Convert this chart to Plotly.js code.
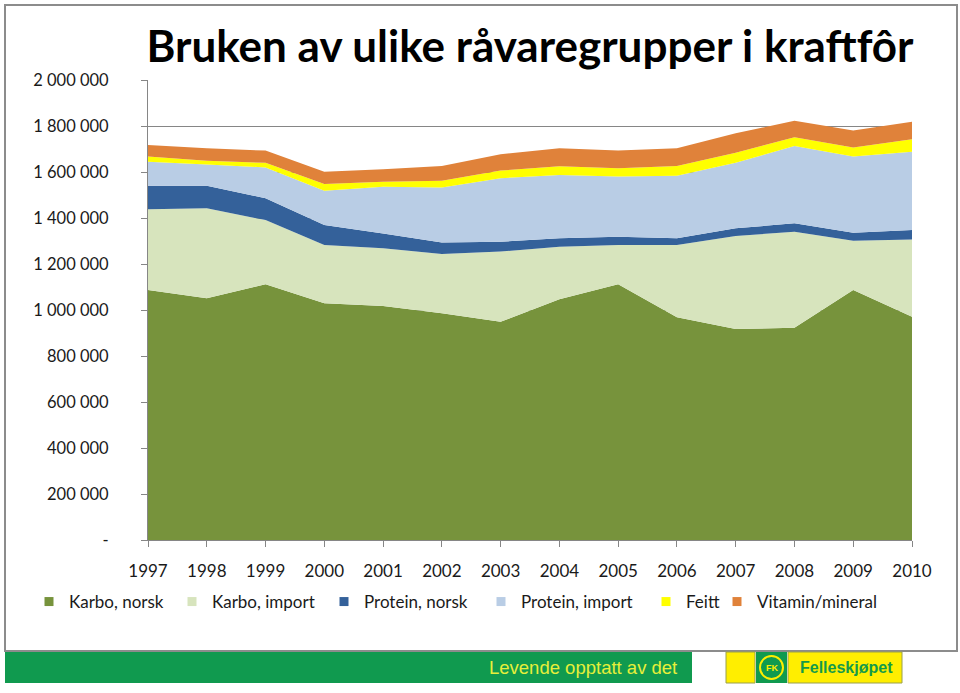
<!DOCTYPE html>
<html>
<head>
<meta charset="utf-8">
<script src="https://cdn.plot.ly/plotly-3.0.1.min.js"></script>
<style>
  html, body { margin: 0; padding: 0; background: #fff; }
</style>
</head>
<body>
<div id="chart" style="width:960px;height:693px;"></div>
<script>
var years = [1997, 1998, 1999, 2000, 2001, 2002, 2003, 2004, 2005, 2006, 2007, 2008, 2009, 2010];

// tonn per år, lest av figuren (stablet)
var karboNorsk    = [1087000, 1051000, 1112000, 1029000, 1017000, 986000, 949000, 1047000, 1112000, 968000, 917000, 923000, 1087000, 971000];
var karboImport   = [351000, 391000, 279000, 254000, 251000, 257000, 305000, 228000, 171000, 315000, 405000, 417000, 214000, 336000];
var proteinNorsk  = [102000, 98000, 95000, 87000, 65000, 51000, 43000, 37000, 36000, 29000, 33000, 37000, 35000, 41000];
var proteinImport = [105000, 93000, 134000, 149000, 203000, 239000, 276000, 275000, 261000, 272000, 285000, 336000, 331000, 340000];
var feitt         = [22000, 16000, 20000, 29000, 22000, 29000, 33000, 38000, 36000, 42000, 44000, 38000, 40000, 54000];
var vitaminMin    = [50000, 54000, 53000, 53000, 54000, 64000, 71000, 78000, 77000, 77000, 84000, 72000, 73000, 77000];

var seriesNames  = ['Karbo, norsk', 'Karbo, import', 'Protein, norsk', 'Protein, import', 'Feitt', 'Vitamin/mineral'];
var seriesValues = [karboNorsk, karboImport, proteinNorsk, proteinImport, feitt, vitaminMin];
var seriesColors = ['#77933c', '#d7e4bd', '#34619a', '#b9cde5', '#ffff00', '#e0823a'];

var yTickVals = [0, 200000, 400000, 600000, 800000, 1000000, 1200000, 1400000, 1600000, 1800000, 2000000];
var yTickText = ['-', '200 000', '400 000', '600 000', '800 000', '1 000 000', '1 200 000', '1 400 000', '1 600 000', '1 800 000', '2 000 000'];

// left pixel of each legend entry's text in the original
var legendTextX = [65, 208, 360, 517, 682, 753];

var FONT = 'Lato, "Open Sans", sans-serif';

// pixel -> paper helpers for the decoration around the plot
function px(x) { return (x - 148) / 764; }
function py(y) { return (540 - y) / 460; }

var data = [];
// areas
seriesValues.forEach(function (vals, i) {
  data.push({
    x: years,
    y: vals,
    type: 'scatter',
    mode: 'none',
    stackgroup: 'one',
    fillcolor: seriesColors[i],
    name: seriesNames[i],
    showlegend: false,
    hoverinfo: 'x+y+name'
  });
});

var layout = {
  width: 960,
  height: 693,
  margin: { l: 148, r: 48, t: 80, b: 153 },
  paper_bgcolor: '#ffffff',
  plot_bgcolor: '#ffffff',
  font: { family: FONT, color: '#1a1a1a' },
  title: {
    text: '<b>Bruken av ulike råvaregrupper i kraftfôr</b>',
    font: { family: FONT, size: 44, color: '#000' },
    x: 530 / 960, xanchor: 'center', xref: 'container',
    y: 1 - 47 / 693, yanchor: 'middle', yref: 'container'
  },
  xaxis: {
    type: 'linear',
    range: [1997, 2010],
    tickvals: years,
    ticktext: years.map(String),
    ticks: 'outside', ticklen: 6, tickcolor: '#868686',
    showline: true, linecolor: '#868686', linewidth: 1,
    showgrid: false, zeroline: false,
    ticklabelstandoff: 10,
    tickfont: { family: FONT, size: 17, color: '#1a1a1a' },
    fixedrange: true
  },
  yaxis: {
    range: [0, 2000000],
    tickvals: yTickVals,
    ticktext: yTickText,
    ticks: 'outside', ticklen: 6, tickcolor: '#868686',
    showline: true, linecolor: '#868686', linewidth: 1,
    showgrid: true, gridcolor: '#868686', gridwidth: 1,
    zeroline: false,
    ticklabelstandoff: 29,
    tickfont: { family: FONT, size: 16.5, color: '#1a1a1a' },
    fixedrange: true
  },
  showlegend: true
};

// one small legend per entry, so each sits where it does in the original
seriesNames.forEach(function (nm, i) {
  var key = i === 0 ? 'legend' : 'legend' + (i + 1);
  data.push({
    x: [null],
    y: [null],
    type: 'scatter',
    mode: 'markers',
    marker: { symbol: 'square', size: 9, color: seriesColors[i] },
    name: nm,
    legend: key,
    showlegend: true
  });
  layout[key] = {
    orientation: 'h',
    x: px(legendTextX[i] - 36), xanchor: 'left',
    y: py(602), yanchor: 'middle',
    bgcolor: 'rgba(0,0,0,0)',
    font: { family: FONT, size: 17, color: '#1a1a1a' },
    itemclick: false, itemdoubleclick: false
  };
});

layout.shapes = [
  // outer frame
  { type: 'rect', xref: 'paper', yref: 'paper', x0: px(5), x1: px(957), y0: py(651), y1: py(5),
    line: { color: '#8c8c8c', width: 2 }, fillcolor: 'rgba(0,0,0,0)', layer: 'below' },
  // footer bar
  { type: 'rect', xref: 'paper', yref: 'paper', x0: px(5), x1: px(692), y0: py(683), y1: py(652),
    line: { width: 0 }, fillcolor: '#109a4f' },
  { type: 'rect', xref: 'paper', yref: 'paper', x0: px(726), x1: px(755), y0: py(683), y1: py(652),
    line: { color: '#9aa04a', width: 1 }, fillcolor: '#ffee00' },
  { type: 'rect', xref: 'paper', yref: 'paper', x0: px(756), x1: px(787), y0: py(683), y1: py(652),
    line: { width: 0 }, fillcolor: '#109a4f' },
  { type: 'circle', xref: 'paper', yref: 'paper', x0: px(760), x1: px(783), y0: py(679), y1: py(656),
    line: { color: '#ffee00', width: 2 }, fillcolor: '#109a4f' },
  { type: 'rect', xref: 'paper', yref: 'paper', x0: px(788), x1: px(902), y0: py(683), y1: py(652),
    line: { color: '#9aa04a', width: 1 }, fillcolor: '#ffee00' }
];

layout.annotations = [
  { xref: 'paper', yref: 'paper', x: px(679), y: py(667), xanchor: 'right', yanchor: 'middle',
    text: 'Levende opptatt av det', showarrow: false,
    font: { family: '"Liberation Sans", Arial, sans-serif', size: 18.5, color: '#e6ef3a' } },
  { xref: 'paper', yref: 'paper', x: px(771.5), y: py(667.5), xanchor: 'center', yanchor: 'middle',
    text: '<b>FK</b>', showarrow: false,
    font: { family: '"Liberation Sans", Arial, sans-serif', size: 9, color: '#ffee00' } },
  { xref: 'paper', yref: 'paper', x: px(846), y: py(667), xanchor: 'center', yanchor: 'middle',
    text: '<b>Felleskjøpet</b>', showarrow: false,
    font: { family: '"Liberation Sans", Arial, sans-serif', size: 16, color: '#149a4a' } }
];

Plotly.newPlot('chart', data, layout, { displayModeBar: false, staticPlot: true });
</script>
</body>
</html>
